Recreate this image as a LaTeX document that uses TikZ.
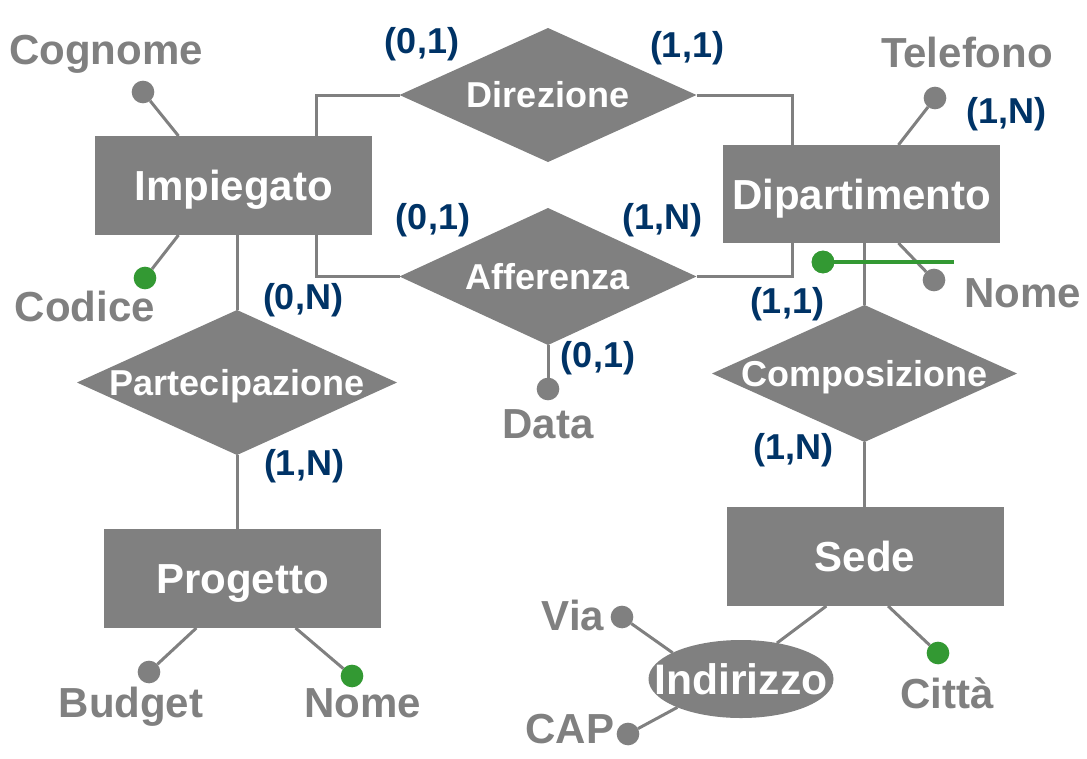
\documentclass[tikz,border=0pt]{standalone}
\usepackage{fontspec}
\setmainfont{Liberation Sans}
\usetikzlibrary{shapes.geometric}
\definecolor{ergray}{RGB}{128,128,128}
\definecolor{erblue}{RGB}{0,51,102}
\definecolor{ergreen}{RGB}{51,153,51}
\newcommand\zw[1]{\makebox[0pt]{#1}}
\begin{document}
\begin{tikzpicture}[x=0.75pt,y=-0.75pt,
 entity/.style={rectangle, fill=ergray, text=white, font=\fontsize{31.5}{36}\selectfont\bfseries, minimum width=207.75pt, minimum height=74.25pt, inner sep=0pt, outer sep=0pt, text height=22.5pt, text depth=0pt},
 rel/.style={diamond, fill=ergray, text=white, inner sep=0pt, outer sep=0pt, font=\fontsize{27}{30}\selectfont\bfseries, text height=19.3pt, text depth=0pt},
 attr/.style={text=ergray, font=\fontsize{31.5}{36}\selectfont\bfseries, inner sep=0pt, text height=22.5pt, text depth=0pt},
 card/.style={text=erblue, font=\fontsize{27}{30}\selectfont\bfseries, inner sep=0pt},
 dot/.style={circle, fill=ergray, inner sep=0pt, minimum size=17pt, outer sep=0pt},
 keydot/.style={dot, fill=ergreen},
 conn/.style={draw=ergray, line width=2.25pt},
 keyline/.style={draw=ergreen, line width=2.5pt}]
\useasboundingbox (0,0) rectangle (1087,758);

% entities
\node[entity] (imp) at (233.5,185.5) {Impiegato};
\node[entity, minimum height=73.5pt] (dep) at (861.5,194) {Dipartimento};
\node[entity] (prog) at (242.5,578.5) {Progetto};
\node[entity] (sede) at (865,556.5) {Sede};

% relationships
\node[rel, minimum width=222.75pt, minimum height=100.5pt] (dir) at (548,95) {\zw{Direzione}};
\node[rel, minimum width=222.75pt, minimum height=102.75pt] (aff) at (548,276.5) {\zw{Afferenza}};
\node[rel, minimum width=240pt, minimum height=108.75pt] (part) at (237,382.5) {\zw{Partecipazione}};
\node[rel, minimum width=228.75pt, minimum height=102.75pt] (comp) at (864.5,373.5) {\zw{Composizione}};
\node[ellipse, fill=ergray, text=white, inner sep=0pt, outer sep=0pt, minimum width=138.75pt, minimum height=58.5pt, font=\fontsize{32}{36}\selectfont\bfseries, text height=22.9pt, text depth=0pt] (ind) at (741,679) {\zw{Indirizzo}};

% coordinates for elbows
\coordinate (xl) at (316,0);
\coordinate (xr) at (792,0);

% relationship connectors
\draw[conn] (imp.north -| xl) |- (dir.west);
\draw[conn] (dir.east) -| (dep.north -| xr);
\draw[conn] (imp.south -| xl) |- (aff.west);
\draw[conn] (aff.east) -| (dep.south -| xr);
\draw[conn] (imp.south -| part.north) -- (part.north);
\draw[conn] (part.south) -- (prog.north -| part.south);
\draw[conn] (dep.south -| comp.north) -- (comp.north);
\draw[conn] (comp.south) -- (sede.north -| comp.south);

% attribute dots
\node[dot] (cogd) at (143,92) {};
\node[keydot] (codd) at (145,278) {};
\node[dot] (teld) at (935,98) {};
\node[dot] (nomed) at (934,280) {};
\node[keydot] (depkey) at (823,262) {};
\coordinate (depkeyend) at (954,262);
\node[dot] (datad) at (548,389) {};
\node[dot] (budd) at (149,672) {};
\node[keydot] (pnomed) at (352,676) {};
\node[dot] (viad) at (622,617) {};
\node[dot] (capd) at (628,734) {};
\node[keydot] (cittad) at (938,653) {};

% attribute lines
\draw[conn] (cogd) -- (imp.138);
\draw[conn] (codd) -- (imp.222);
\draw[conn] (teld) -- (dep.53);
\draw[conn] (nomed) -- (dep.307);
\draw[keyline] (depkey.center) -- (depkeyend);
\draw[conn] (aff.south) -- (datad);
\draw[conn] (budd) -- (prog.227);
\draw[conn] (pnomed) -- (prog.317);
\draw[conn] (cittad) -- (sede.295);
\draw[conn] (ind.45) -- (sede.232);
\draw[conn] (viad) -- (ind.159);
\draw[conn] (capd) -- (ind.204);
\node[keydot] at (depkey) {};

% attribute labels
\node[attr] (cogl) at (106,49) {Cognome};
\node[attr] (codl) at (85,306) {Codice};
\node[attr] (tell) at (967,52) {Telefono};
\node[attr] (nomel) at (1023,292) {Nome};
\node[attr] (datal) at (548,423) {Data};
\node[attr] (budl) at (131,702) {Budget};
\node[attr] (pnomel) at (363,702) {Nome};
\node[attr] (vial) at (573,615) {Via};
\node[attr] (capl) at (570,728) {CAP};
\node[attr] (cittal) at (947,693) {Città};

% cardinalities
\node[card] (c1) at (422,44) {(0,1)};
\node[card] (c2) at (687,48) {(1,1)};
\node[card] (c3) at (1006,114) {(1,N)};
\node[card] (c4) at (433,220) {(0,1)};
\node[card] (c5) at (662,220) {(1,N)};
\node[card] (c6) at (303,300) {(0,N)};
\node[card] (c7) at (787,304) {(1,1)};
\node[card] (c8) at (598,358) {(0,1)};
\node[card] (c9) at (304,466) {(1,N)};
\node[card] (c10) at (793,450) {(1,N)};
\end{tikzpicture}
\end{document}
